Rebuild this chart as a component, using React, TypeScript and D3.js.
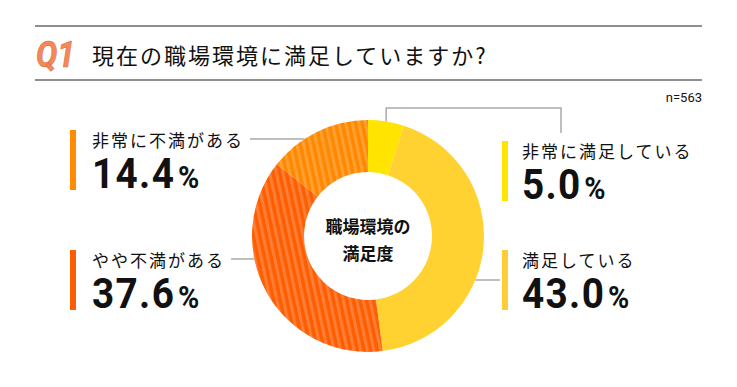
import React from "react";
import * as d3 from "d3";

// 回答データ（時計回り、12時の位置から）
const categories = ["非常に満足している", "満足している", "やや不満がある", "非常に不満がある"];
const values = [5.0, 43.0, 37.6, 14.4];
const sampleSize = "n=563";
const questionNo = "Q1";
const questionText = "現在の職場環境に満足していますか?";
const centerLines = ["職場環境の", "満足度"];

// 色
const sliceColors = ["#FFE400", "#FFD232", "#FF5E00", "#FF8800"];
const stripeColors = [null, null, "#FF7E36", "#FFA030"];
const barColors = ["#FFE400", "#FFCB38", "#FF5E00", "#FF8C00"];

// ラベル配置 (side, bar top, leader y)
const labelLayout = [
  { side: "right", top: 141, leaderY: null },
  { side: "right", top: 250, leaderY: 280 },
  { side: "left", top: 250, leaderY: 259 },
  { side: "left", top: 130, leaderY: 139 },
];

const W = 737;
const H = 387;
const cx = 368;
const cy = 236;
const outerR = 116;
const innerR = 64;

const jpFont = "'Noto Sans CJK JP', 'Noto Sans', sans-serif";
const numFont = "Roboto, 'Noto Sans', sans-serif";

export default function App() {
  const pie = d3
    .pie<number>()
    .sort(null)
    .value((d) => d);
  const arcs = pie(values);
  const arc = d3.arc<d3.PieArcDatum<number>>().innerRadius(innerR).outerRadius(outerR);
  const edgeArc = d3.arc<d3.PieArcDatum<number>>().innerRadius(outerR).outerRadius(outerR);

  const edgeX = (y: number, side: string) => {
    const dy = y - cy;
    const dx = Math.sqrt(Math.max(0, outerR * outerR - dy * dy));
    return side === "left" ? cx - dx : cx + dx;
  };

  const labelSize = 17;
  const labelSpacing = 2;

  return (
    <div style={{ position: "absolute", left: 0, top: 0 }}>
      <svg width={W} height={H} style={{ display: "block", background: "#fff" }}>
        <defs>
          {arcs.map((a, i) =>
            stripeColors[i] ? (
              <pattern
                key={i}
                id={`stripe-${i}`}
                patternUnits="userSpaceOnUse"
                width={6.5}
                height={10}
                patternTransform="rotate(-12)"
              >
                <rect width={6.5} height={10} fill={sliceColors[i]} />
                <rect width={3} height={10} fill={stripeColors[i]!} />
              </pattern>
            ) : null
          )}
        </defs>

        {/* 見出し */}
        <line x1={35} x2={702} y1={26} y2={26} stroke="#8f8f8f" strokeWidth={2} />
        <line x1={35} x2={702} y1={80} y2={80} stroke="#8f8f8f" strokeWidth={2} />
        <text
          x={36}
          y={67}
          fontFamily={numFont}
          fontStyle="italic"
          fontWeight={700}
          fontSize={36}
          fill="#F5895A"
          stroke="#D9693A"
          strokeWidth={0.6}
          textLength={39}
          lengthAdjust="spacingAndGlyphs"
        >
          {questionNo}
        </text>
        <text
          x={92}
          y={54}
          dominantBaseline="central"
          fontFamily={jpFont}
          fontSize={22}
          letterSpacing={2}
          fill="#111"
        >
          {questionText}
        </text>
        <text x={702} y={102} textAnchor="end" fontFamily={numFont} fontSize={13} fill="#111">
          {sampleSize}
        </text>

        {/* ドーナツ */}
        <g transform={`translate(${cx},${cy})`}>
          {arcs.map((a, i) => (
            <path
              key={i}
              d={arc(a)!}
              fill={stripeColors[i] ? `url(#stripe-${i})` : sliceColors[i]}
            />
          ))}
        </g>
        <text
          x={cx}
          textAnchor="middle"
          fontFamily={jpFont}
          fontWeight={700}
          fontSize={17}
          fill="#111"
        >
          {centerLines.map((t, i) => (
            <tspan key={i} x={cx} y={225 + i * 27} dominantBaseline="central">
              {t}
            </tspan>
          ))}
        </text>

        {/* 引き出し線 */}
        {arcs.map((a, i) => {
          const lay = labelLayout[i];
          const textLen = categories[i].length * (labelSize + labelSpacing);
          if (lay.leaderY === null) {
            const [px, py] = edgeArc.centroid(a);
            const ax = cx + px;
            const ay = cy + py;
            return (
              <path
                key={i}
                d={`M${ax},${ay}V108H561V133`}
                fill="none"
                stroke="#aaa"
                strokeWidth={1.5}
              />
            );
          }
          if (lay.side === "left") {
            return (
              <line
                key={i}
                x1={92 + textLen + 6}
                x2={edgeX(lay.leaderY, "left")}
                y1={lay.leaderY}
                y2={lay.leaderY}
                stroke="#aaa"
                strokeWidth={1.5}
              />
            );
          }
          return (
            <line
              key={i}
              x1={edgeX(lay.leaderY, "right")}
              x2={500}
              y1={lay.leaderY}
              y2={lay.leaderY}
              stroke="#aaa"
              strokeWidth={1.5}
            />
          );
        })}

        {/* ラベル */}
        {categories.map((c, i) => {
          const lay = labelLayout[i];
          const barX = lay.side === "left" ? 70 : 502;
          const tx = lay.side === "left" ? 92 : 522;
          return (
            <g key={c}>
              <rect x={barX} y={lay.top} width={6} height={60} fill={barColors[i]} />
              <text
                x={tx}
                y={lay.top + 9}
                dominantBaseline="central"
                fontFamily={jpFont}
                fontSize={labelSize}
                letterSpacing={labelSpacing}
                fill="#111"
              >
                {c}
              </text>
              <text
                transform={`translate(${tx},${lay.top + 58}) scale(0.9,1)`}
                fontFamily={numFont}
                fontWeight={700}
                fontSize={43}
                letterSpacing={1.5}
                fill="#111"
              >
                {values[i].toFixed(1)}
                <tspan fontSize={32} dx={3}>
                  %
                </tspan>
              </text>
            </g>
          );
        })}
      </svg>
    </div>
  );
}
